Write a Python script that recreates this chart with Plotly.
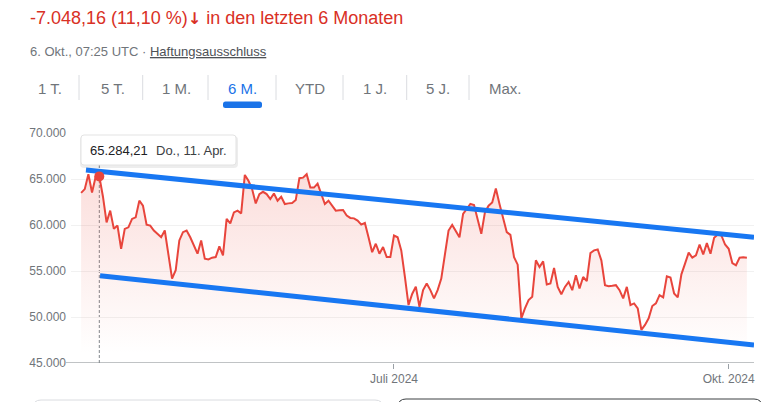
import pandas as pd
import plotly.graph_objects as go

# Kurs in EUR, taeglich vom 6. Apr. bis 6. Okt. 2024
start_date = "2024-04-06"
end_date = "2024-10-06"
prices = [
    63497, 63900, 65520, 63530, 65230, 65284.21, 63100, 60290, 61560, 59580,
    59940, 57420, 59580, 59750, 60660, 60830, 62640, 62100, 60040, 59940,
    59400, 59040, 58670, 59400, 56510, 54180, 55080, 58320, 59220, 59400,
    58670, 57780, 56880, 58320, 56340, 56260, 56450, 56510, 57670, 56700,
    60660, 60180, 61370, 61560, 61260, 65440, 64800, 63900, 62350, 63360,
    63610, 63360, 62820, 63430, 62640, 63070, 62280, 62350, 62390, 62710,
    65090, 65150, 65520, 64070, 64070, 64500, 63360, 62280, 62640, 62100,
    61560, 61600, 61630, 61020, 60770, 60720, 60480, 60040, 60230, 58670,
    57050, 57960, 56880, 57600, 56510, 56510, 58860, 58670, 57240, 54350,
    51300, 52500, 53300, 51110, 52920, 53640, 52920, 52020, 52920, 54180,
    56880, 59400, 60010, 59400, 58670, 61200, 61740, 62280, 62170, 60660,
    59040, 61370, 62100, 62450, 63960, 62280, 60660, 59220, 58930, 56510,
    55690, 49860, 50940, 51840, 52190, 56160, 55430, 56050, 53530, 53640,
    55320, 53270, 52480, 53270, 53810, 52920, 54540, 53100, 54350, 53890,
    56950, 57240, 57340, 56160, 53460, 53350, 53400, 53460, 52920, 52020,
    53270, 51300, 51480, 50940, 48600, 49140, 49860, 51190, 51480, 52380,
    52130, 54430, 54290, 52560, 52130, 54640, 55800, 56990, 56450, 56700,
    57880, 56800, 58030, 56880, 58610, 58960, 58860, 57880, 57420, 55860,
    55620, 56450, 56500, 56449,
]
dates = pd.date_range(start_date, end_date, freq="D")

# eingezeichneter Trendkanal
upper_dates = ["2024-04-07 08:00", "2024-10-07 23:00"]
upper_vals = [65980, 58660]
lower_dates = ["2024-04-11 05:00", "2024-10-07 23:00"]
lower_vals = [54490, 46960]

x_range = ["2024-04-03 05:20", "2024-10-07 23:00"]
y_ticks = [45000, 50000, 55000, 60000, 65000, 70000]
x_ticks = ["2024-07-01", "2024-10-01"]
x_tick_labels = ["Juli 2024", "Okt. 2024"]

tabs = ["1 T.", "5 T.", "1 M.", "6 M.", "YTD", "1 J.", "5 J.", "Max."]
selected_tab = "6 M."

hover_date = "2024-04-11"
hover_label = "Do., 11. Apr."

header = ("-7.048,16 (11,10 %)"
          "<span style='font-family:DejaVu Sans;font-weight:bold;font-size:16px'>↓</span>"
          " in den letzten 6 Monaten")
subline = "6. Okt., 07:25 UTC · <span style='color:#4d5156'><u>Haftungsausschluss</u></span>"

RED = "#e8453c"
BLUE = "#1877f2"
GREY = "#70757a"

# pixel -> paper helpers
W, H = 768, 402
L, R, T, B = 71, 14, 133, 39


def fx(px):
    return (px - L) / (W - L - R)


def fy(py):
    return (H - B - py) / (H - T - B)


def rounded_rect(x0, y0, x1, y1, r):
    return (f"M {fx(x0)} {fy(y0 + r)} Q {fx(x0)} {fy(y0)} {fx(x0 + r)} {fy(y0)} "
            f"L {fx(x1 - r)} {fy(y0)} Q {fx(x1)} {fy(y0)} {fx(x1)} {fy(y0 + r)} "
            f"L {fx(x1)} {fy(y1 - r)} Q {fx(x1)} {fy(y1)} {fx(x1 - r)} {fy(y1)} "
            f"L {fx(x0 + r)} {fy(y1)} Q {fx(x0)} {fy(y1)} {fx(x0)} {fy(y1 - r)} Z")


def de_num(v):
    return f"{v:,.2f}".replace(",", "X").replace(".", ",").replace("X", ".")


fig = go.Figure()

fig.add_trace(go.Scatter(
    x=dates, y=prices, mode="lines",
    line=dict(color=RED, width=2),
    fill="tozeroy",
    fillgradient=dict(
        type="vertical",
        colorscale=[[0, "rgba(234,67,53,0)"], [1, "rgba(234,67,53,0.18)"]],
        start=46000, stop=66000,
    ),
    hoverinfo="skip",
))

for xs, ys in [(upper_dates, upper_vals), (lower_dates, lower_vals)]:
    fig.add_trace(go.Scatter(x=xs, y=ys, mode="lines",
                             line=dict(color=BLUE, width=5), hoverinfo="skip"))

hover_val = prices[dates.get_loc(pd.Timestamp(hover_date))]
fig.add_trace(go.Scatter(x=[hover_date], y=[hover_val], mode="markers",
                         marker=dict(color=RED, size=10), hoverinfo="skip"))

shapes = []
# Hover-Linie
shapes.append(dict(type="line", xref="x", yref="paper", x0=hover_date, x1=hover_date,
                   y0=0, y1=fy(165), line=dict(color="#80868b", width=1, dash="3px,2px"),
                   layer="below"))
# x-Achse
shapes.append(dict(type="line", xref="paper", yref="y", x0=fx(66), x1=1, y0=45000, y1=45000,
                   line=dict(color="#80868b", width=1)))
# Tooltip
shapes.append(dict(type="path", xref="paper", yref="paper",
                   path=rounded_rect(80, 136, 238, 168, 4),
                   fillcolor="rgba(0,0,0,0.07)", line=dict(width=0)))
shapes.append(dict(type="path", xref="paper", yref="paper",
                   path=rounded_rect(81, 135, 236, 165, 3),
                   fillcolor="white", line=dict(color="#e3e3e3", width=1)))
# Tabs: Trenner und Markierung
for sx in [79, 142.7, 208, 276, 343, 406.7, 469]:
    shapes.append(dict(type="line", xref="paper", yref="paper", x0=fx(sx), x1=fx(sx),
                       y0=fy(75), y1=fy(100), line=dict(color="#dadce0", width=1)))
shapes.append(dict(type="path", xref="paper", yref="paper",
                   path=rounded_rect(223, 101.5, 262, 108, 2.5),
                   fillcolor="#1a73e8", line=dict(width=0)))
# angeschnittene Karten unten
shapes.append(dict(type="path", xref="paper", yref="paper",
                   path=rounded_rect(33, 400, 383, 430, 8),
                   fillcolor="rgba(0,0,0,0)", line=dict(color="#dadce0", width=1)))
shapes.append(dict(type="path", xref="paper", yref="paper",
                   path=rounded_rect(398, 399, 762, 430, 8),
                   fillcolor="rgba(0,0,0,0)", line=dict(color="#3c4043", width=1)))

annotations = [
    dict(text=header, x=fx(28), y=fy(18), xanchor="left", yanchor="middle",
         font=dict(size=18, color="#d93025")),
    dict(text=subline, x=fx(28), y=fy(51.5), xanchor="left", yanchor="middle",
         font=dict(size=13, color=GREY)),
    dict(text=de_num(hover_val), x=fx(88), y=fy(150.5), xanchor="left", yanchor="middle",
         font=dict(size=13, color="#202124")),
    dict(text=hover_label, x=fx(154), y=fy(150.5), xanchor="left", yanchor="middle",
         font=dict(size=13, color="#3c4043")),
]
for label, cx in zip(tabs, [50, 112.5, 176, 242.5, 310, 375, 438, 505]):
    annotations.append(dict(text=label, x=fx(cx), y=fy(88), xanchor="center", yanchor="middle",
                            font=dict(size=15, color="#1a73e8" if label == selected_tab else GREY)))
for a in annotations:
    a.update(xref="paper", yref="paper", showarrow=False)

fig.update_layout(
    width=W, height=H,
    margin=dict(l=L, r=R, t=T, b=B, pad=0),
    paper_bgcolor="white", plot_bgcolor="white",
    showlegend=False,
    separators=",.",
    font=dict(family="Arial, Liberation Sans, sans-serif", size=12, color=GREY),
    shapes=shapes,
    annotations=annotations,
    xaxis=dict(type="date", range=x_range, tickvals=x_ticks, ticktext=x_tick_labels,
               ticks="outside", ticklen=5, tickcolor="#9aa0a6", showgrid=False,
               zeroline=False, showline=False, tickfont=dict(size=12, color=GREY)),
    yaxis=dict(range=[45000, 70000], tickvals=y_ticks, tickformat=",d",
               showgrid=True, gridcolor="#f1f1f1", zeroline=False, ticks="",
               ticklabelstandoff=4, tickfont=dict(size=12, color=GREY)),
)

# Seitenrand entfernen, damit die Grafik bei (0,0) beginnt
fig.write_html("out.html", config={"displayModeBar": False},
               post_script="document.body.style.margin='0';")
